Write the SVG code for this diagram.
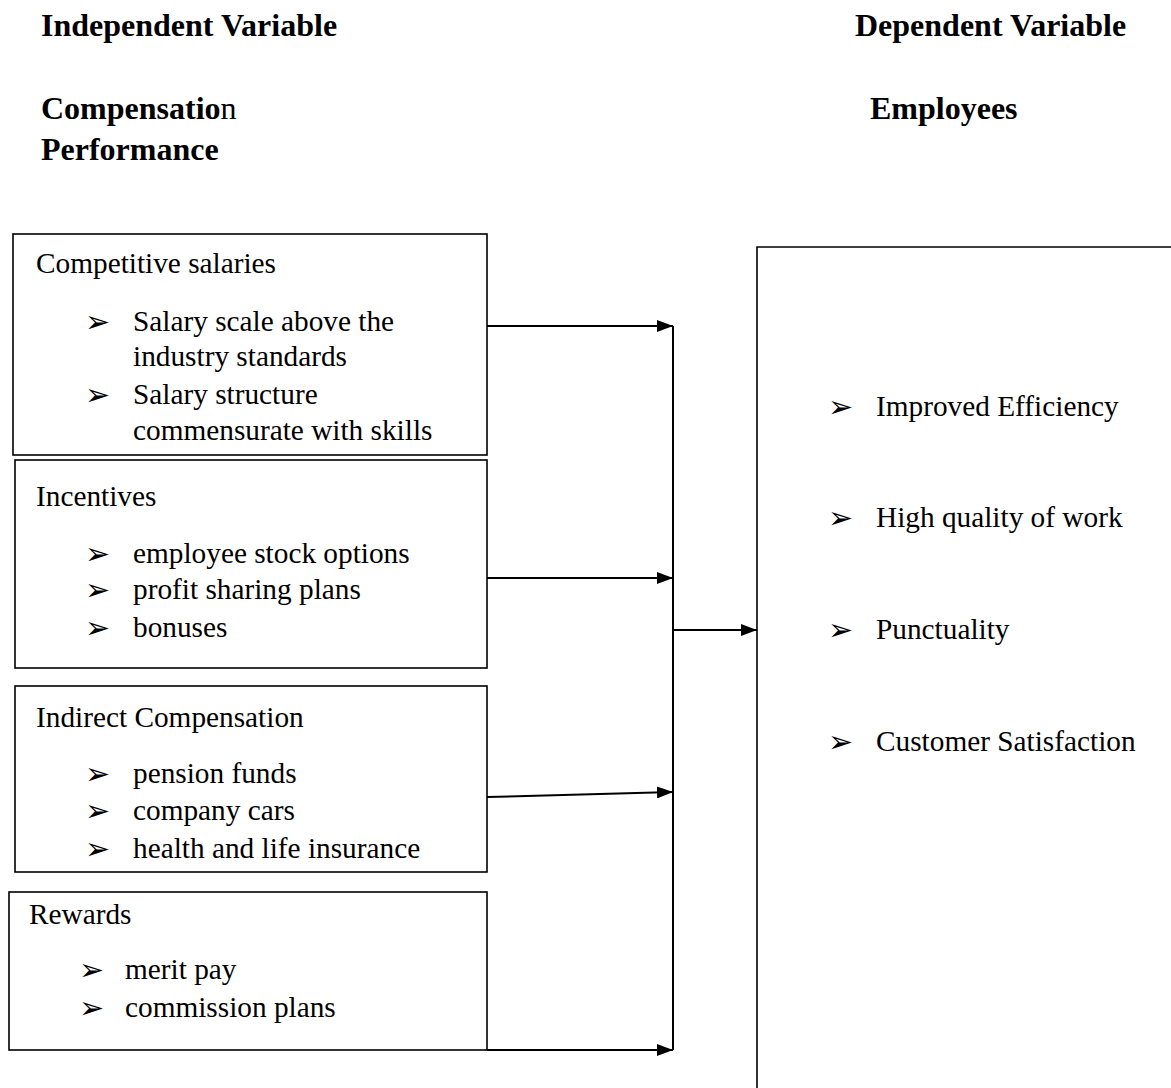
<svg xmlns="http://www.w3.org/2000/svg" width="1171" height="1088" viewBox="0 0 1171 1088">
<style>
text{font-family:"Liberation Serif","Times New Roman",serif;font-size:29.3px;fill:#000}
.h{font-size:32px}
.b{font-weight:bold}
.bl{font-family:"DejaVu Sans",sans-serif;font-size:30px}
.box{fill:none;stroke:#000;stroke-width:1.6}
.c{fill:none;stroke:#000;stroke-width:2}
</style>
<defs>
<marker id="ah2" markerWidth="16" markerHeight="12" refX="16" refY="6" orient="auto" markerUnits="userSpaceOnUse" viewBox="0 0 16 12">
<path d="M0,0 L16,6 L0,12 z" fill="#000"/>
</marker>
</defs>
<g id="headings">
<text class="b h" x="41" y="36">Independent Variable</text>
<text class="b h" x="855" y="36">Dependent Variable</text>
<text class="h" x="41" y="119"><tspan class="b">Compensatio</tspan>n</text>
<text class="b h" x="41" y="160">Performance</text>
<text class="b h" x="870" y="119">Employees</text>
</g>
<g id="competitive-salaries">
<rect class="box" x="13" y="234" width="474" height="221"/>
<text x="36" y="273">Competitive salaries</text>
<text class="bl" x="85" y="332">➢</text><text x="133" y="331">Salary scale above the</text>
<text x="133" y="366">industry standards</text>
<text class="bl" x="85" y="405">➢</text><text x="133" y="404">Salary structure</text>
<text x="133" y="440">commensurate with skills</text>
</g>
<g id="incentives">
<rect class="box" x="15" y="460" width="472" height="208"/>
<text x="36" y="506">Incentives</text>
<text class="bl" x="85" y="564">➢</text><text x="133" y="563">employee stock options</text>
<text class="bl" x="85" y="600">➢</text><text x="133" y="599">profit sharing plans</text>
<text class="bl" x="85" y="638">➢</text><text x="133" y="637">bonuses</text>
</g>
<g id="indirect-compensation">
<rect class="box" x="15" y="686" width="472" height="186"/>
<text x="36" y="727">Indirect Compensation</text>
<text class="bl" x="85" y="784">➢</text><text x="133" y="783">pension funds</text>
<text class="bl" x="85" y="821">➢</text><text x="133" y="820">company cars</text>
<text class="bl" x="85" y="859">➢</text><text x="133" y="858">health and life insurance</text>
</g>
<g id="rewards">
<rect class="box" x="9" y="892" width="478" height="158"/>
<text x="29" y="924">Rewards</text>
<text class="bl" x="79" y="980">➢</text><text x="125" y="979">merit pay</text>
<text class="bl" x="79" y="1018">➢</text><text x="125" y="1017">commission plans</text>
</g>
<g id="employees-performance">
<path class="box" d="M1175,247 H757 V1092"/>
<text class="bl" x="828" y="417">➢</text><text x="876" y="416">Improved Efficiency</text>
<text class="bl" x="828" y="528">➢</text><text x="876" y="527">High quality of work</text>
<text class="bl" x="828" y="640">➢</text><text x="876" y="639">Punctuality</text>
<text class="bl" x="828" y="752">➢</text><text x="876" y="751">Customer Satisfaction</text>
</g>
<g id="connectors">
<line class="c" x1="487" y1="326" x2="673" y2="326" marker-end="url(#ah2)"/>
<line class="c" x1="487" y1="578" x2="673" y2="578" marker-end="url(#ah2)"/>
<line class="c" x1="487" y1="797" x2="673" y2="792" marker-end="url(#ah2)"/>
<line class="c" x1="487" y1="1050" x2="673" y2="1050" marker-end="url(#ah2)"/>
<line class="c" x1="673" y1="326" x2="673" y2="1050"/>
<line class="c" x1="673" y1="630" x2="757" y2="630" marker-end="url(#ah2)"/>
</g>
</svg>
